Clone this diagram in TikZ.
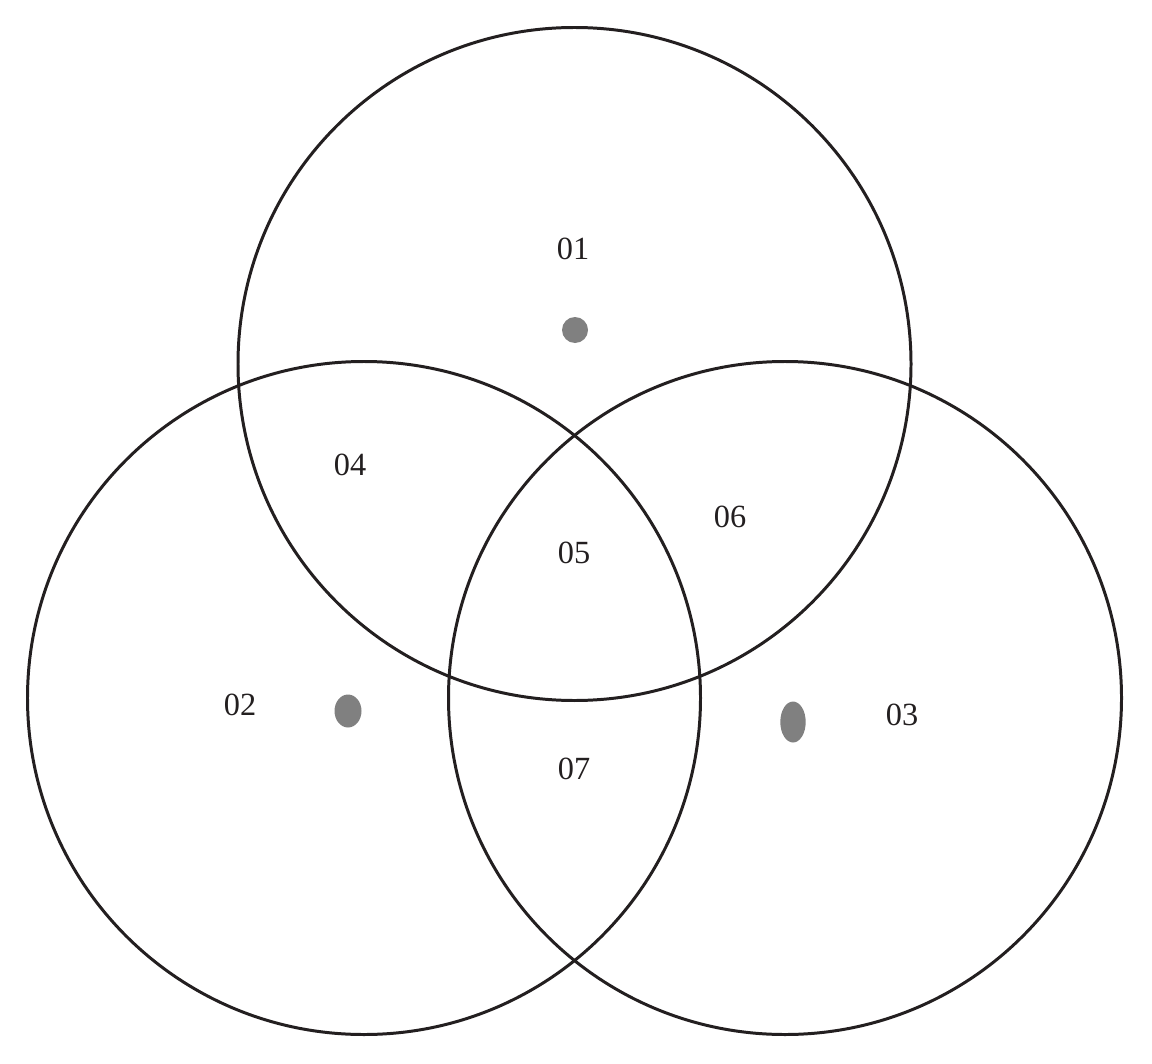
\documentclass[tikz,border=0pt]{standalone}
\usepackage{fontspec}
\setmainfont{Liberation Serif}
\definecolor{ringline}{HTML}{231F20}
\definecolor{dotgray}{HTML}{808080}
\tikzset{
  ring/.style={draw=ringline, line width=1.7pt},
  dot/.style={fill=dotgray, draw=none},
  lbl/.style={inner sep=0pt, font=\fontsize{18.4}{20}\selectfont, text=ringline}
}

\begin{document}
\begin{tikzpicture}[x=0.02cm, y=-0.02cm]
  \useasboundingbox (0,0) rectangle (1152,1064);
  % the three rings
  \draw[ring] (574.5,364) circle[radius=336.5];
  \draw[ring] (364,698) circle[radius=336.5];
  \draw[ring] (785,698) circle[radius=336.5];
  % dots
  \fill[dot] (575,330) ellipse[x radius=13, y radius=13];
  \fill[dot] (348,711) ellipse[x radius=13.5, y radius=16.5];
  \fill[dot] (793,722) ellipse[x radius=12.7, y radius=20.5];
  % region labels
  \node[lbl] (r01) at (573,249) {01};
  \node[lbl] (r02) at (240,705) {02};
  \node[lbl] (r03) at (902,715) {03};
  \node[lbl] (r04) at (350,465) {04};
  \node[lbl] (r05) at (574,553) {05};
  \node[lbl] (r06) at (730,517) {06};
  \node[lbl] (r07) at (574,769) {07};
\end{tikzpicture}
\end{document}
